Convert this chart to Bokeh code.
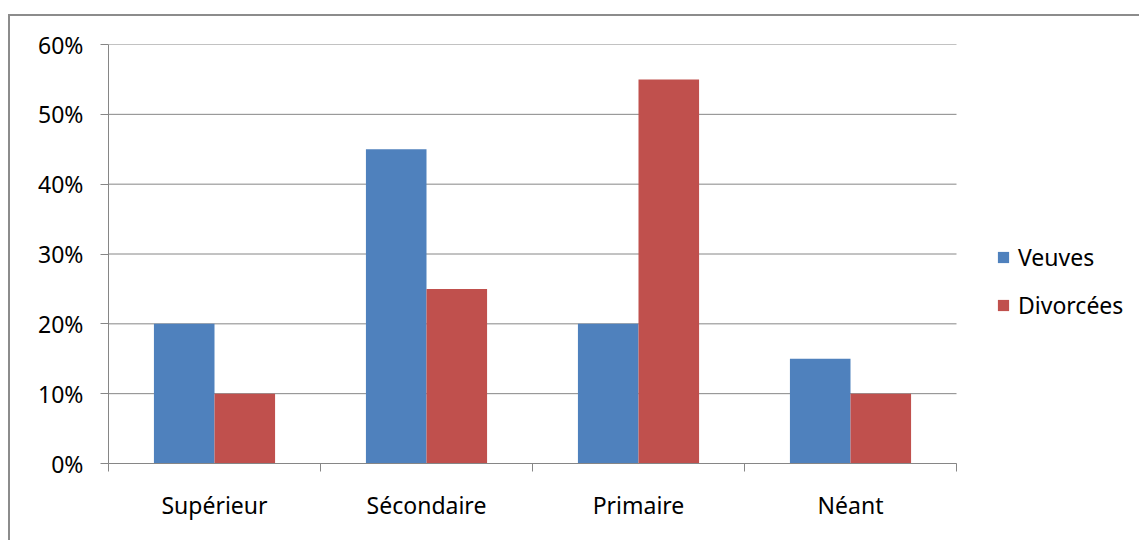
from bokeh.plotting import figure
from bokeh.models import (ColumnDataSource, FixedTicker, NumeralTickFormatter,
                          Legend, LegendItem, Range1d)
from bokeh.embed import file_html
from bokeh.resources import INLINE

# Education level of widowed and divorced women (share of each group)
categories = ["Supérieur", "Sécondaire", "Primaire", "Néant"]
veuves = [0.20, 0.45, 0.20, 0.15]
divorcees = [0.10, 0.25, 0.55, 0.10]
y_ticks = [0.0, 0.1, 0.2, 0.3, 0.4, 0.5, 0.6]

BLUE = "#4F81BD"
RED = "#C0504D"
GREY = "#868686"
FONT = "Noto Sans"
FS = "23px"

n = len(categories)
bar_w = 1 / 3.5          # Excel-style gap width of 150%
centers = [i + 0.5 for i in range(n)]

# plot area is 212 px per category; the frame also spans the legend area
CAT_PX = 212
CANVAS_W, CANVAS_H = 1131, 526
LEFT, TOP, BOTTOM = 98, 28, 79
x_end = (CANVAS_W - LEFT) / CAT_PX

src = ColumnDataSource(dict(
    xv=[c - bar_w / 2 for c in centers],
    xd=[c + bar_w / 2 for c in centers],
    veuves=veuves,
    divorcees=divorcees,
))

# the canvas sits inside a chart-area frame drawn with CSS borders
p = figure(width=CANVAS_W, height=CANVAS_H, output_backend="svg",
           toolbar_location=None,
           x_range=Range1d(0, x_end), y_range=Range1d(0, 0.6),
           min_border_left=LEFT, min_border_right=0,
           min_border_top=TOP, min_border_bottom=BOTTOM)
p.margin = (14, 0, 0, 8)
p.styles = {"border-top": "2px solid #8C8C8C", "border-left": "2px solid #8C8C8C"}
p.outline_line_color = None
p.background_fill_color = "white"
p.border_fill_color = "white"

# horizontal gridlines limited to the category span
p.segment(x0=[0] * len(y_ticks), x1=[n] * len(y_ticks), y0=y_ticks, y1=y_ticks,
          line_color=GREY, line_width=1)

rv = p.vbar(x="xv", top="veuves", width=bar_w, source=src,
            fill_color=BLUE, line_color=None)
rd = p.vbar(x="xd", top="divorcees", width=bar_w, source=src,
            fill_color=RED, line_color=None)

# y axis: percentages with outward ticks
p.yaxis.ticker = FixedTicker(ticks=y_ticks)
p.yaxis.formatter = NumeralTickFormatter(format="0%")
p.yaxis.axis_line_color = GREY
p.yaxis.major_tick_line_color = GREY
p.yaxis.major_tick_out = 8
p.yaxis.major_tick_in = 0
p.yaxis.minor_tick_line_color = None
p.yaxis.major_label_standoff = 17
p.yaxis.major_label_text_font = FONT
p.yaxis.major_label_text_font_size = FS
p.yaxis.major_label_text_color = "black"

# x axis: names at category centres, tick marks at category boundaries
p.xaxis.bounds = (0, n)
p.xaxis.ticker = FixedTicker(ticks=centers, minor_ticks=list(range(n + 1)))
p.xaxis.major_label_overrides = {c: name for c, name in zip(centers, categories)}
p.xaxis.axis_line_color = GREY
p.xaxis.major_tick_line_color = None
p.xaxis.major_tick_out = 0
p.xaxis.major_tick_in = 0
p.xaxis.minor_tick_line_color = GREY
p.xaxis.minor_tick_out = 8
p.xaxis.minor_tick_in = 0
p.xaxis.major_label_standoff = 17
p.xaxis.major_label_text_font = FONT
p.xaxis.major_label_text_font_size = FS
p.xaxis.major_label_text_color = "black"

p.xgrid.grid_line_color = None
p.ygrid.grid_line_color = None

legend = Legend(items=[LegendItem(label="Veuves", renderers=[rv]),
                       LegendItem(label="Divorcées", renderers=[rd])],
                location=(888, 142), orientation="vertical",
                padding=0, margin=0, spacing=16,
                glyph_width=14, glyph_height=14, label_standoff=8,
                border_line_color=None, background_fill_alpha=0,
                label_text_font=FONT, label_text_font_size=FS,
                label_text_color="black")
p.add_layout(legend, "center")

open("out.html", "w").write(file_html(p, INLINE))
